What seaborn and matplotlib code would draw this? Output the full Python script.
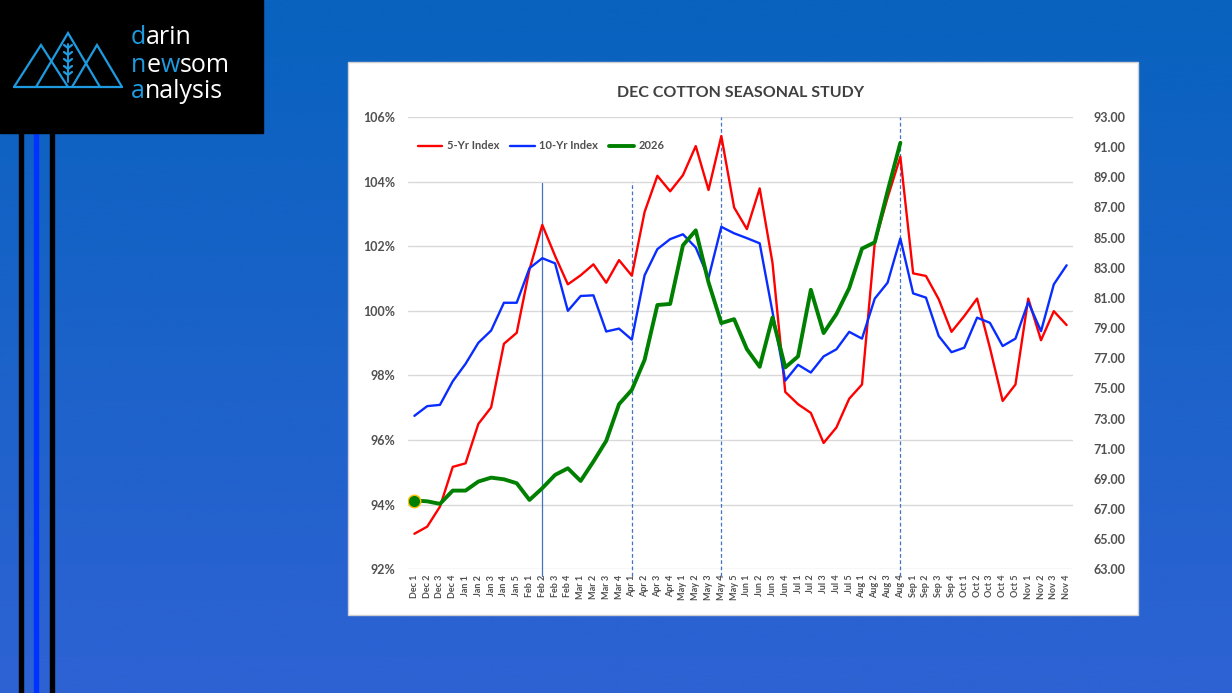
import numpy as np
import pandas as pd
import seaborn as sns
import matplotlib.pyplot as plt
import matplotlib.patches as mpatches
from matplotlib.colors import LinearSegmentedColormap
from matplotlib.offsetbox import TextArea, HPacker, AnnotationBbox

# ---------------- data ----------------
weeks = ['Dec 1', 'Dec 2', 'Dec 3', 'Dec 4',
         'Jan 1', 'Jan 2', 'Jan 3', 'Jan 4', 'Jan 5',
         'Feb 1', 'Feb 2', 'Feb 3', 'Feb 4',
         'Mar 1', 'Mar 2', 'Mar 3', 'Mar 4',
         'Apr 1', 'Apr 2', 'Apr 3', 'Apr 4',
         'May 1', 'May 2', 'May 3', 'May 4', 'May 5',
         'Jun 1', 'Jun 2', 'Jun 3', 'Jun 4',
         'Jul 1', 'Jul 2', 'Jul 3', 'Jul 4', 'Jul 5',
         'Aug 1', 'Aug 2', 'Aug 3', 'Aug 4',
         'Sep 1', 'Sep 2', 'Sep 3', 'Sep 4',
         'Oct 1', 'Oct 2', 'Oct 3', 'Oct 4', 'Oct 5',
         'Nov 1', 'Nov 2', 'Nov 3', 'Nov 4']

five_yr = [93.10, 93.32, 93.94, 95.17, 95.28, 96.50, 97.01, 98.98, 99.32,
           101.28, 102.66, 101.70, 100.82, 101.10, 101.44, 100.87, 101.57, 101.09,
           103.06, 104.18, 103.70, 104.20, 105.10, 103.74, 105.41, 103.20, 102.53,
           103.79, 101.49, 97.49, 97.11, 96.84, 95.91, 96.39, 97.28,
           97.72, 102.11, 103.50, 104.77, 101.16, 101.08, 100.36, 99.35, 99.84,
           100.38, 98.86, 97.21, 97.72, 100.38, 99.09, 99.99, 99.56]

ten_yr = [96.75, 97.05, 97.09, 97.82, 98.36, 99.01, 99.39, 100.25, 100.25,
          101.32, 101.63, 101.47, 100.00, 100.46, 100.48, 99.36, 99.45, 99.11,
          101.10, 101.91, 102.22, 102.37, 101.96, 101.02, 102.60, 102.40, 102.25,
          102.09, 99.97, 97.84, 98.33, 98.09, 98.59, 98.81, 99.35,
          99.14, 100.38, 100.87, 102.24, 100.54, 100.41, 99.22, 98.72, 98.86,
          99.79, 99.63, 98.91, 99.14, 100.27, 99.37, 100.82, 101.41]

# 2026 Dec cotton futures, right axis
dec_2026 = [67.56, 67.51, 67.34, 68.22, 68.22, 68.82, 69.08, 68.97, 68.71,
            67.60, 68.38, 69.26, 69.70, 68.86, 70.15, 71.52, 73.95, 74.90,
            76.89, 80.53, 80.60, 84.49, 85.48, 82.03, 79.33, 79.59, 77.60,
            76.43, 79.70, 76.39, 77.12, 81.54, 78.67, 79.93, 81.65,
            84.27, 84.69, 88.07, 91.29]

left_ticks = np.arange(92, 107, 2)
right_ticks = np.arange(63, 94, 2)

marker_weeks = ['Feb 2', 'Apr 1', 'May 4', 'Aug 4']
marker_tops = [103.95, 104.0, 106.0, 106.0]
marker_solid = [True, False, False, False]

# ---------------- style ----------------
sns.set_style('white')
plt.rcParams['font.family'] = ['Lato', 'DejaVu Sans']
label_grey = '#505050'

W, H = 1232, 693
fig = plt.figure(figsize=(W / 100, H / 100), dpi=100)

# background layer in pixel coordinates
bg = fig.add_axes([0, 0, 1, 1])
grad = np.linspace(0, 1, 256).reshape(-1, 1)
cmap = LinearSegmentedColormap.from_list('bg', ['#0862be', '#2e62d4'])
bg.imshow(grad, cmap=cmap, extent=(0, W, H, 0), aspect='auto', zorder=0)
bg.set_xlim(0, W)
bg.set_ylim(H, 0)
bg.axis('off')

# left bars + logo box
bg.add_patch(mpatches.Rectangle((19, 130), 3.5, H - 130, color='black', zorder=1))
bg.add_patch(mpatches.Rectangle((34, 130), 3.5, H - 130, color='#0033ff', zorder=1))
bg.add_patch(mpatches.Rectangle((50, 130), 3.5, H - 130, color='black', zorder=1))
bg.add_patch(mpatches.Rectangle((0, 0), 263, 133, color='black', zorder=2))

logo_blue = '#1e9be0'
tri_kw = dict(color=logo_blue, lw=1.6, zorder=3, solid_joinstyle='miter')
bg.plot([14, 122], [87, 87], **tri_kw)
bg.plot([14, 41, 68], [87, 45, 87], **tri_kw)
bg.plot([36, 68, 100], [87, 33, 87], **tri_kw)
bg.plot([72, 97, 122], [87, 45, 87], **tri_kw)
bg.plot([68, 68], [44, 82], color=logo_blue, lw=1.4, zorder=3)
for yy in [48, 55, 62, 69, 75]:
    bg.plot([64, 68, 72], [yy - 3, yy, yy - 3], color=logo_blue, lw=1.6, zorder=3)

def logo_word(parts, y):
    areas = [TextArea(t, textprops=dict(color=c, fontsize=18, family='Open Sans'))
             for t, c in parts]
    box = HPacker(children=areas, pad=0, sep=0, align='baseline')
    ab = AnnotationBbox(box, (131, y), xycoords='data', box_alignment=(0, 0.5),
                        frameon=False, pad=0, zorder=4)
    bg.add_artist(ab)

logo_word([('d', logo_blue), ('arin', 'white')], 38)
logo_word([('n', logo_blue), ('e', 'white'), ('w', logo_blue), ('som', 'white')], 66)
logo_word([('a', logo_blue), ('nalysis', 'white')], 92)

# white chart card
bg.add_patch(mpatches.Rectangle((348, 62), 790, 553, facecolor='white',
                                edgecolor='#cfcfcf', lw=1, zorder=1))

fig.text(741 / W, 1 - 93 / H, 'DEC COTTON SEASONAL STUDY', ha='center', va='center',
         fontsize=11.5, fontweight='bold', color='#404040')

# ---------------- main chart ----------------
ax = fig.add_axes([408 / W, 1 - 569.3 / H, 665 / W, 452.3 / H])
ax.patch.set_alpha(0)

df = pd.DataFrame({'pos': np.arange(len(weeks)), 'week': weeks,
                   'five': five_yr, 'ten': ten_yr})
df26 = pd.DataFrame({'pos': np.arange(len(dec_2026)), 'price': dec_2026})

sns.lineplot(data=df, x='pos', y='five', ax=ax, color='#ff0000', linewidth=1.7,
             label='5-Yr Index')
sns.lineplot(data=df, x='pos', y='ten', ax=ax, color='#0a2dff', linewidth=1.7,
             label='10-Yr Index')

for wk, top, solid in zip(marker_weeks, marker_tops, marker_solid):
    p = weeks.index(wk)
    ls = '-' if solid else (0, (3, 2))
    ax.plot([p, p], [91.8, top], color='#4472c4', lw=0.9, ls=ls, clip_on=False, zorder=1)

ax.set_xlim(-0.5, len(weeks) - 0.5)
ax.set_ylim(92, 106)
ax.set_yticks(left_ticks)
ax.set_yticklabels(['{:.0f}%'.format(v) for v in left_ticks], fontweight='bold')
ax.set_xticks(df['pos'])
ax.set_xticklabels(weeks, rotation=90, fontweight='bold')
ax.tick_params(axis='x', length=0, pad=4, labelsize=6.5, labelcolor=label_grey)
ax.tick_params(axis='y', length=0, pad=9, labelsize=9, labelcolor=label_grey)
ax.yaxis.grid(True, color='#d9d9d9', lw=1)
ax.set_axisbelow(True)
ax.set_xlabel('')
ax.set_ylabel('')
sns.despine(ax=ax, left=True, bottom=True)

ax2 = ax.twinx()
sns.lineplot(data=df26, x='pos', y='price', ax=ax2, color='#008000', linewidth=2.8,
             label='2026')
ax2.plot(df26['pos'].iloc[:1], df26['price'].iloc[:1], 'o', color='#008000',
         markeredgecolor='#ffc000', markersize=9, markeredgewidth=1)
ax2.set_ylim(63, 93)
ax2.set_yticks(right_ticks)
ax2.set_yticklabels(['{:.2f}'.format(v) for v in right_ticks], fontweight='bold')
ax2.tick_params(axis='y', length=0, pad=15, labelsize=9, labelcolor=label_grey)
ax2.set_ylabel('')
sns.despine(ax=ax2, left=True, bottom=True, right=True)

# combined legend
h1, l1 = ax.get_legend_handles_labels()
h2, l2 = ax2.get_legend_handles_labels()
ax.get_legend().remove()
ax2.legend(h1 + h2[:1], l1 + l2[:1], loc='center left', bbox_to_anchor=(0.0, 0.936),
           ncol=3, frameon=False, prop=dict(weight='bold', size=8),
           labelcolor=label_grey, handlelength=2.2, columnspacing=1.0, handletextpad=0.4)

fig.savefig('out.png', dpi=100)
